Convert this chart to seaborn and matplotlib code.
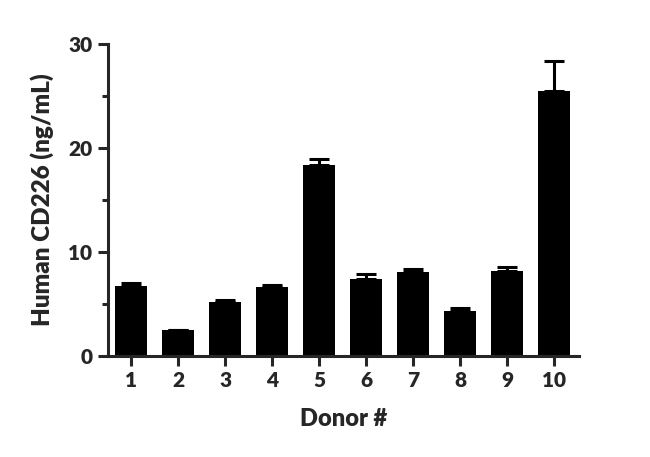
import numpy as np
import pandas as pd
import matplotlib
matplotlib.use("Agg")
import matplotlib.pyplot as plt
import seaborn as sns
from matplotlib.ticker import MultipleLocator

# Values
donors = ["1", "2", "3", "4", "5", "6", "7", "8", "9", "10"]
mean_ng = [6.7, 2.5, 5.15, 6.6, 18.4, 7.45, 8.1, 4.35, 8.15, 25.5]
sem_ng = [0.35, 0.0, 0.2, 0.2, 0.5, 0.4, 0.3, 0.25, 0.4, 2.9]

df = pd.DataFrame({"donor": donors, "conc": mean_ng})

sns.set_style("ticks")
plt.rcParams["font.family"] = ["Lato", "DejaVu Sans"]
plt.rcParams["font.weight"] = "heavy"

fig = plt.figure(figsize=(6.5, 4.57), dpi=100)
ax = fig.add_axes([0.1657, 0.221, 0.7251, 0.6827])

sns.barplot(data=df, x="donor", y="conc", color="black", saturation=1,
            width=0.68, errorbar=None, linewidth=0, ax=ax)

# upward-only error bars
xpos = np.arange(len(donors))
ax.errorbar(xpos, mean_ng, yerr=[np.zeros(len(sem_ng)), sem_ng], fmt="none",
            ecolor="black", elinewidth=2.2, capsize=7, capthick=2.2)

ax.set_xlim(-0.5, 9.53)
ax.set_ylim(0, 30)
ax.yaxis.set_major_locator(MultipleLocator(10))
ax.yaxis.set_minor_locator(MultipleLocator(5))

for side in ["top", "right"]:
    ax.spines[side].set_visible(False)
for side in ["left", "bottom"]:
    ax.spines[side].set_linewidth(2.2)

ax.tick_params(axis="both", which="major", direction="out", length=7, width=2.2,
               labelsize=15, pad=4)
ax.tick_params(axis="y", which="minor", direction="out", length=4, width=2.2)

ax.set_xlabel("Donor #", fontsize=17, fontweight="heavy", labelpad=13)
ax.set_ylabel("Human CD226 (ng/mL)", fontsize=17.5, fontweight="heavy", labelpad=10)
for lbl in ax.get_xticklabels() + ax.get_yticklabels():
    lbl.set_fontweight("heavy")

fig.savefig("out.png", dpi=100)
